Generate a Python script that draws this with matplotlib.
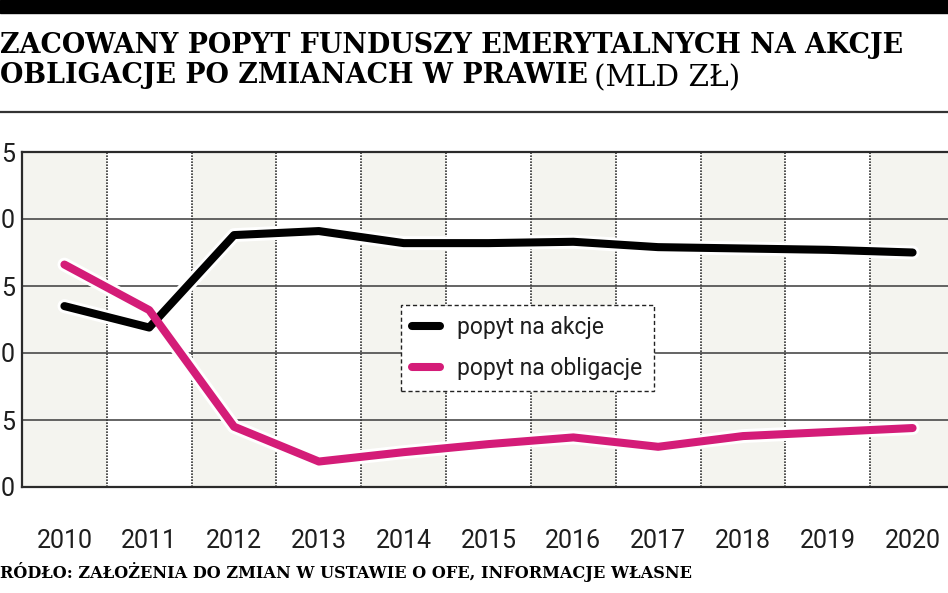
import matplotlib
matplotlib.use("Agg")
import matplotlib.pyplot as plt
from matplotlib.patches import Rectangle
from matplotlib.lines import Line2D

# data (mld zł)
years = [2010, 2011, 2012, 2013, 2014, 2015, 2016, 2017, 2018, 2019, 2020]
akcje = [13.5, 11.9, 18.8, 19.1, 18.2, 18.2, 18.3, 17.9, 17.8, 17.7, 17.5]
obligacje = [16.6, 13.2, 4.5, 1.9, 2.6, 3.2, 3.7, 3.0, 3.8, 4.1, 4.4]
y_ticks = [0, 5, 10, 15, 20, 25]
# only the last digit of each y label is visible in the cropped reference
y_tick_labels = ["0", "5", "0", "5", "0", "5"]
labels = ["popyt na akcje", "popyt na obligacje"]

title1 = "ZACOWANY POPYT FUNDUSZY EMERYTALNYCH NA AKCJE"
title2 = "OBLIGACJE PO ZMIANACH W PRAWIE"
unit = "(MLD ZŁ)"
source = "RÓDŁO: ZAŁOŻENIA DO ZMIAN W USTAWIE O OFE, INFORMACJE WŁASNE"

W, H = 948, 593
PINK = "#d41c78"
GREY_BG = "#f4f4ef"
GRID = "#3a3a3a"
TXT = "#1e1e1e"
narrow = ["Roboto", "DejaVu Sans"]
slab = ["DejaVu Serif"]

fig = plt.figure(figsize=(W / 100, H / 100), dpi=100)
fig.patch.set_facecolor("white")

def px_x(x):
    return x / W

def px_y(y):
    return 1 - y / H

# top black bar and rule under title
fig.patches.append(Rectangle((0, px_y(13)), 1, 13 / H, transform=fig.transFigure,
                             color="black", zorder=0))
fig.add_artist(Line2D([0, 1], [px_y(112), px_y(112)], transform=fig.transFigure,
                      color="#333333", lw=1.6))

renderer = fig.canvas.get_renderer()

def fit_text(s, x, y, width_px, **kw):
    t = fig.text(x, y, s, fontsize=16, **kw)
    w = t.get_window_extent(renderer).width
    t.set_fontsize(16 * width_px / w)
    return t

t1 = fit_text(title1, 0, px_y(53), 903, family=slab, weight="bold",
              va="baseline", ha="left")
fs_title = t1.get_fontsize()
t2 = fig.text(0, px_y(83), title2, family=slab, weight="bold", fontsize=fs_title,
              va="baseline", ha="left")
x_end = t2.get_window_extent(renderer).x1
fig.text(px_x(x_end + 6), px_y(86), unit, family=slab, fontsize=fs_title * 1.1,
         va="baseline", ha="left")

fit_text(source, 0, px_y(578), 693, family=slab, weight="bold",
         va="baseline", ha="left")

# plot area: left edge 22 px, bottom 487 px, top 152 px, runs off the right edge
ax = fig.add_axes([px_x(22), px_y(487), 933 / W, (487 - 152) / H])
ax.set_xlim(2009.5, 2020.5)
ax.set_ylim(0, 25)
ax.set_facecolor("white")

for yr in years:
    if (yr - 2010) % 2 == 0:
        ax.axvspan(yr - 0.5, yr + 0.5, color=GREY_BG, lw=0, zorder=0)
for yr in years[:-1]:
    ax.axvline(yr + 0.5, color="#333333", lw=1.2, ls=(0, (1.0, 0.8)), zorder=1)
for v in y_ticks[1:-1]:
    ax.axhline(v, color=GRID, lw=1.1, zorder=1)

# white halo under both lines, then the lines
for vals in (akcje, obligacje):
    ax.plot(years, vals, color="white", lw=10, solid_capstyle="round",
            solid_joinstyle="round", zorder=2)
ax.plot(years, akcje, color="black", lw=5.8, solid_capstyle="round",
        solid_joinstyle="round", zorder=3, label=labels[0])
ax.plot(years, obligacje, color=PINK, lw=5.8, solid_capstyle="round",
        solid_joinstyle="round", zorder=4, label=labels[1])

for side in ("left", "top", "bottom"):
    ax.spines[side].set_color("#2a2a2a")
    ax.spines[side].set_linewidth(1.6)
ax.spines["right"].set_visible(False)

ax.set_xticks(years)
ax.set_xticklabels([str(y) for y in years], family=narrow, fontsize=18, color=TXT)
ax.set_yticks(y_ticks)
ax.set_yticklabels(y_tick_labels, family=narrow, fontsize=18, color=TXT,
                   ha="left")
ax.tick_params(axis="x", length=0, pad=30)
ax.tick_params(axis="y", length=0, pad=15.3)

leg = ax.legend(loc="upper left", bbox_to_anchor=((401 - 22) / 933, (487 - 305) / 335),
                borderaxespad=0, frameon=True, fancybox=False,
                prop={"family": narrow, "size": 16.5},
                handlelength=1.2, handletextpad=0.75, borderpad=0.5,
                labelspacing=0.75)
for txt in leg.get_texts():
    txt.set_color(TXT)
frame = leg.get_frame()
frame.set_edgecolor("#222222")
frame.set_linestyle((0, (3, 2)))
frame.set_linewidth(1.0)
frame.set_facecolor("white")
frame.set_alpha(1)
leg.set_zorder(5)
for ln in leg.get_lines():
    ln.set_solid_capstyle("round")

fig.savefig("out.png", dpi=100)
